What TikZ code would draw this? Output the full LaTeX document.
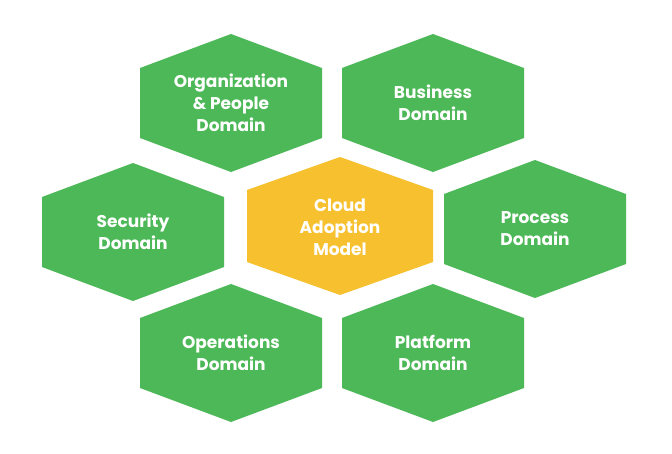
\documentclass[tikz,border=0pt]{standalone}
\usepackage{fontspec}
\setmainfont{Poppins}
\definecolor{hexgreen}{HTML}{4DB857}
\definecolor{hexyellow}{HTML}{F6C02F}
\tikzset{
  hexlabel/.style={text=white, font=\bfseries\fontsize{17}{22}\selectfont, align=center},
}
\newcommand{\hexa}[5]{%
  \fill[#3] (#1,#2) ++(0,-69) -- ++(91,34) -- ++(0,70) -- ++(-91,34) -- ++(-91,-34) -- ++(0,-70) -- cycle;
  \node[hexlabel] (#4) at (#1,#2) {#5};
}
\begin{document}
\begin{tikzpicture}[x=1pt,y=-1pt]
\useasboundingbox (0,0) rectangle (672,453);
\fill[white] (0,0) rectangle (672,453);
\hexa{231}{103}{hexgreen}{org}{Organization\\\& People\\Domain}
\hexa{433}{103}{hexgreen}{bus}{Business\\Domain}
\hexa{133}{232}{hexgreen}{sec}{Security\\Domain}
\fill[hexyellow] (340,226) ++(0,-69) -- ++(93,33) -- ++(0,72) -- ++(-93,33) -- ++(-93,-33) -- ++(0,-72) -- cycle;
\node[hexlabel] (cam) at (340,227) {Cloud\\Adoption\\Model};
\hexa{535}{229}{hexgreen}{pro}{Process\\Domain}
\hexa{231}{353}{hexgreen}{ops}{Operations\\Domain}
\hexa{433}{353}{hexgreen}{pla}{Platform\\Domain}
\end{tikzpicture}
\end{document}
